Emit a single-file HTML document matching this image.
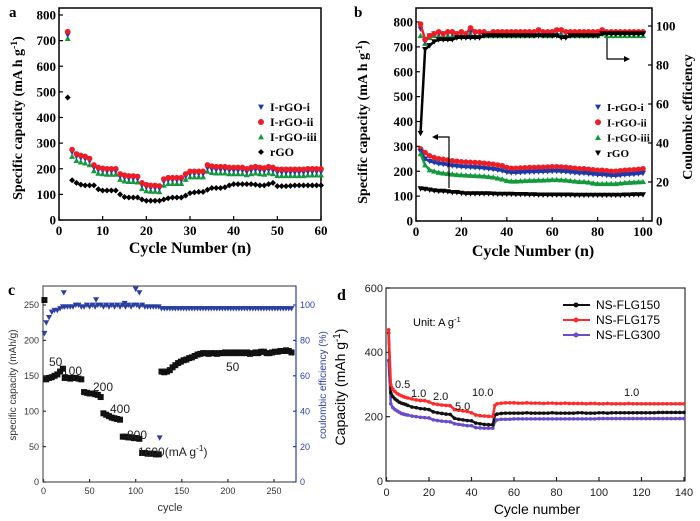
<!DOCTYPE html>
<html><head><meta charset="utf-8"><style>
body{margin:0;background:#fff}
svg{display:block}
.ser{font-family:"Liberation Serif",serif;font-weight:bold}
.san{font-family:"Liberation Sans",sans-serif}
</style></head><body>
<svg id="fig" width="700" height="521" viewBox="0 0 700 521" xmlns="http://www.w3.org/2000/svg">
<g id="pa"></g>
<g id="pb"></g>
<g id="pc"></g>
<g id="pd"></g>
</svg>
<script>
// ---------- Panel a data ----------
const aCycles=[2,3,4,5,6,7,8,9,10,11,12,13,14,15,16,17,18,19,20,21,22,23,24,25,26,27,28,29,30,31,32,33,34,35,36,37,38,39,40,41,42,43,44,45,46,47,48,49,50,51,52,53,54,55,56,57,58,59,60];
const aRed=[735,275,258,252,248,240,215,205,202,200,200,200,180,175,172,172,170,145,138,135,135,133,160,165,165,165,165,180,190,190,190,190,215,210,208,208,208,205,205,205,205,200,205,208,205,203,208,205,198,198,198,198,198,198,198,200,200,200,200];
const aBlue=[722,265,248,242,238,230,205,195,192,190,190,190,170,165,162,162,160,135,128,125,125,123,150,155,155,155,155,170,180,180,180,180,203,198,196,196,196,193,193,193,193,188,193,196,193,191,196,193,186,186,186,186,186,186,186,188,188,188,188];
const aGreen=[708,248,232,226,222,215,192,182,180,178,178,178,158,152,150,150,148,122,114,112,112,110,135,142,142,142,142,158,168,168,168,168,190,185,183,183,183,180,180,180,180,176,180,183,180,178,183,180,173,173,173,173,173,173,173,175,175,175,175];
const aBlack=[478,155,145,138,135,135,135,120,115,115,115,115,100,90,88,88,88,80,75,75,75,75,80,85,88,88,88,95,105,108,110,110,118,125,125,125,128,135,140,140,140,140,140,138,135,135,140,145,132,132,132,133,135,135,135,135,135,135,135];
const aYTicks=[0,100,200,300,400,500,600,700,800];
const aXTicks=[0,10,20,30,40,50,60];
// ---------- Panel b data ----------
const bCycles=[2,4,6,8,10,12,14,16,18,20,22,24,26,28,30,32,34,36,38,40,42,44,46,48,50,52,54,56,58,60,62,64,66,68,70,72,74,76,78,80,82,84,86,88,90,92,94,96,98,100];
const bRed=[290,275,262,255,250,248,245,242,240,238,237,236,235,234,232,230,228,225,222,215,212,212,213,214,215,215,216,216,217,218,218,217,216,214,212,210,210,208,206,204,204,202,200,200,202,204,205,206,208,210];
const bBlue=[280,250,240,235,230,228,225,222,220,218,217,216,215,214,212,210,208,205,202,196,194,194,195,196,197,197,198,198,199,200,200,199,198,196,194,192,192,190,188,186,186,184,182,182,184,186,187,188,190,192];
const bGreen=[270,225,205,200,195,192,190,188,186,185,184,183,182,181,180,178,176,172,168,162,160,160,161,162,163,163,164,164,165,166,166,165,164,162,160,158,158,156,152,150,150,150,150,150,152,154,155,156,157,158];
const bBlack=[130,128,125,122,120,120,118,115,115,112,110,110,110,110,110,110,109,108,108,108,108,107,107,107,106,106,105,105,105,105,105,105,105,105,104,104,104,104,104,104,104,104,104,104,104,105,105,106,106,106];
const bCERed=[101,93,95,96,97,96,97,97,96,97,96,99,97,97,97,96,97,97,97,97,97,97,97,97,97,97,98,97,97,97,98,98,97,97,97,97,97,97,97,97,98,97,97,97,97,97,97,97,97,97];
const bCEBlue=[98.5,92,95,96,96,96,96,96,96,96,96,97,96,96,96,96,96,96,96,96,96,96,96,96,96,96,97,96,96,96,97,97,96,96,96,96,96,96,96,96,97,96,96,96,96,96,96,96,96,96];
const bCEGreen=[95,91,94,95,95,95,95,95,95,95,95,96,95,95,95,95,95,95,95,95,95,95,95,95,95,95,96,95,95,95,96,96,95,95,95,95,95,95,95,95,96,95,95,95,95,95,95,95,95,95];
const bCEBlack=[45,88,90,92,93,93,93,93,94,94,94,94,94,94,95,95,95,95,95,95,95,95,95,95,95,95,95,95,95,95,95,94,94,95,95,95,95,95,95,95,96,96,96,96,96,96,96,96,96,96];
const bYTicks=[0,100,200,300,400,500,600,700,800];
const bY2Ticks=[0,20,40,60,80,100];
const bXTicks=[0,20,40,60,80,100];
// ---------- Panel c data ----------
const cCycles=[1,3,6,9,12,15,18,21,23,26,29,32,35,38,41,44,47,50,53,56,59,62,65,68,71,74,77,80,83,86,89,92,95,98,101,104,107,110,113,116,119,122,125,128,131,134,137,140,143,146,149,152,155,158,161,164,167,170,173,176,179,182,185,188,191,194,197,200,203,206,209,212,215,218,221,224,227,230,233,236,239,242,245,248,251,254,257,260,263,266,269];
const cCap=[257,145,147,148,150,152,156,160,147,147,146,147,147,146,145,127,126,125,125,124,123,120,97,95,93,91,90,89,88,64,64,63,63,62,62,61,41,41,40,40,40,39,39,156,155,156,158,162,165,168,170,172,173,175,176,178,180,181,182,182,181,182,182,181,182,182,183,182,183,182,183,182,183,182,183,181,182,183,182,184,184,182,182,183,184,184,185,185,186,185,183];
const cCE=[84,90,93,96,97,97,98,99,99,99,99,99,100,100,99,99,100,99,100,99,100,100,99,100,99,100,99,100,99,100,99,100,99,100,100,99,100,99,99,99,99,99,99,98,98,98,98,98,98,98,98,98,98,98,98,98,98,98,98,98,98,98,98,98,98,98,98,98,98,98,98,98,98,98,98,98,98,98,98,98,98,98,98,98,98,98,98,98,98,98,98];
const cOutCycles=[22,57,88,100,104,126];
const cOutCE=[107,103,101,109,107,25];
const cYTicks=[0,50,100,150,200,250];
const cY2Ticks=[0,20,40,60,80,100];
const cXTicks=[0,50,100,150,200,250];
// ---------- Panel d data ----------
const dCycles=[1,2,3,4,5,6,7,8,9,10,12,14,16,18,20,22,24,26,28,30,32,34,36,38,40,42,44,46,48,50,51,52,54,56,58,60,62,64,66,68,70,72,74,76,78,80,82,84,86,88,90,92,94,96,98,100,102,104,106,108,110,112,114,116,118,120,122,124,126,128,130,132,134,136,138,140];
const dRed=[470,300,285,278,272,268,265,262,260,258,255,252,250,250,246,240,238,236,235,234,222,220,218,216,212,205,203,202,201,200,235,240,242,243,243,243,242,242,243,242,242,242,241,242,242,241,241,242,241,241,241,241,240,241,241,240,240,241,240,240,240,240,241,240,240,240,240,240,240,240,240,240,240,240,240,240];
const dBlack=[460,275,262,255,250,245,242,240,238,235,230,228,225,224,222,215,212,210,208,207,195,192,190,188,187,180,178,176,175,175,205,208,210,211,211,211,211,211,212,211,211,211,211,211,212,211,211,211,211,211,212,212,211,211,211,212,212,211,212,212,212,212,212,212,212,212,212,212,212,213,213,213,213,213,213,213];
const dPurple=[375,240,228,222,218,214,210,208,206,205,202,200,198,197,196,190,188,186,185,184,178,176,174,172,172,166,165,164,164,164,185,190,192,192,192,193,193,193,193,193,193,193,193,193,193,193,193,193,193,193,193,193,193,193,193,194,194,194,194,194,194,194,194,194,194,194,194,194,194,194,194,194,194,194,194,194];
const dYTicks=[0,200,400,600];
const dXTicks=[0,20,40,60,80,100,120,140];

// ---------- helpers ----------
const NS="http://www.w3.org/2000/svg";
function mk(parent,tag,attrs,text){const e=document.createElementNS(NS,tag);for(const k in attrs)e.setAttribute(k,attrs[k]);if(text!==undefined)e.textContent=text;parent.appendChild(e);return e;}
function lin(d0,d1,r0,r1){return v=>r0+(v-d0)*(r1-r0)/(d1-d0);}
function marker(g,type,x,y,s,col){
  let e;
  if(type==='circle'){e=mk(g,'circle',{cx:x,cy:y,r:s,fill:col});}
  else if(type==='tdown'){e=mk(g,'polygon',{points:`${x-s},${y-s*0.8} ${x+s},${y-s*0.8} ${x},${y+s}`,fill:col});}
  else if(type==='tup'){e=mk(g,'polygon',{points:`${x-s},${y+s*0.8} ${x+s},${y+s*0.8} ${x},${y-s}`,fill:col});}
  else if(type==='diamond'){e=mk(g,'polygon',{points:`${x},${y-s} ${x+s},${y} ${x},${y+s} ${x-s},${y}`,fill:col});}
  else {e=mk(g,'rect',{x:x-s,y:y-s,width:2*s,height:2*s,fill:col});}
  return e;
}
function series(g,name,xs,ys,sx,sy,type,size,col,line,lw){
  const sg=mk(g,'g',{});
  
  
  if(line){let d='';xs.forEach((c,i)=>{d+=(i?'L':'M')+sx(c).toFixed(1)+','+sy(ys[i]).toFixed(1);});mk(sg,'path',{d:d,fill:'none',stroke:col,'stroke-width':lw||1.5});}
  xs.forEach((c,i)=>{const m=marker(sg,type,sx(c),sy(ys[i]),size,col);
    
    });
}
function frame(g,x0,y0,x1,y1,col,w){const r=mk(g,'rect',{x:x0,y:y0,width:x1-x0,height:y1-y0,fill:'none',stroke:col||'#000','stroke-width':w||1.5});}
function yTicks(g,ticks,sy,x,side,len,cls,fs,col,lx){
  const tg=mk(g,'g',{});
  ticks.forEach(t=>{const y=sy(t);
    mk(tg,'line',{x1:x,x2:side==='l'?x+len:x-len,y1:y,y2:y,stroke:col,'stroke-width':1.2});
    const tx=mk(tg,'text',{x:lx,y:y+fs*0.35,'text-anchor':side==='l'?'end':'start','font-size':fs,fill:col,class:cls},String(t));
    });
}
function xTicks(g,ticks,sx,y,len,cls,fs,col,ly){
  const tg=mk(g,'g',{});
  ticks.forEach(t=>{const x=sx(t);
    mk(tg,'line',{x1:x,x2:x,y1:y,y2:y-len,stroke:col,'stroke-width':1.2});
    const tx=mk(tg,'text',{x:x,y:ly,'text-anchor':'middle','font-size':fs,fill:col,class:cls},String(t));
    });
}
function label(g,name,x,y,txt,fs,cls,opts){
  const a=Object.assign({x:x,y:y,'font-size':fs,class:cls},opts||{});
  const t=mk(g,'text',a);
  if(Array.isArray(txt)){txt.forEach(p=>{if(typeof p==='string')mk(t,'tspan',{},p);else mk(t,'tspan',{'baseline-shift':'super','font-size':fs*0.7},p.sup);});}
  else t.textContent=txt;
  return t;
}
const C_BLUE='#1c3aa8',C_RED='#ee1c24',C_GREEN='#149a3c',C_BLK='#000';

// ---------- Panel a ----------
(function(){
  const g=document.getElementById('pa');
  const sx=lin(0,60,59,321), sy=lin(0,800,220,15);
  frame(g,59,8,321,220);
  yTicks(g,aYTicks,sy,59,'l',4,'ser',13,'#000',56);
  xTicks(g,aXTicks,sx,220,4,'ser',13,'#000',235);
  series(g,'series-rgo',aCycles,aBlack,sx,sy,'diamond',3,C_BLK);
  series(g,'series-i-rgo-iii',aCycles,aGreen,sx,sy,'tup',3,C_GREEN);
  series(g,'series-i-rgo-i',aCycles,aBlue,sx,sy,'tdown',3,C_BLUE);
  series(g,'series-i-rgo-ii',aCycles,aRed,sx,sy,'circle',2.8,C_RED);
  label(g,'panel-label-a',9,17,'a',15,'ser',{'font-weight':'normal'});
  label(g,'x-axis-title',190,253,'Cycle Number (n)',16,'ser',{'text-anchor':'middle'});
  label(g,'y-axis-title',0,0,['Specific capacity (mA h g',{sup:'-1'},')'],14,'ser',{'text-anchor':'middle',transform:'translate(22,118) rotate(-90)'});
  const lg=mk(g,'g',{});
  [['tdown',C_BLUE,'I-rGO-i'],['circle',C_RED,'I-rGO-ii'],['tup',C_GREEN,'I-rGO-iii'],['diamond',C_BLK,'rGO']].forEach((e,i)=>{
    const y=107+i*15;marker(lg,e[0],261,y,3,e[1]);
    label(lg,'legend-entry',270,y+4,e[2],12,'ser');});
})();

// ---------- Panel b ----------
(function(){
  const g=document.getElementById('pb');
  const sx=lin(0,100,416,643), sy=lin(0,800,221,22), sy2=lin(0,100,221,26);
  frame(g,416,8,652,221);
  yTicks(g,bYTicks,sy,416,'l',4,'ser',13,'#000',413);
  yTicks(g,bY2Ticks,sy2,652,'r',4,'ser',13,'#000',656);
  xTicks(g,bXTicks,sx,221,4,'ser',13,'#000',236);
  series(g,'ce-i-rgo-iii',bCycles,bCEGreen,sx,sy2,'tup',3,C_GREEN);
  series(g,'ce-i-rgo-i',bCycles,bCEBlue,sx,sy2,'tdown',3,C_BLUE);
  series(g,'ce-i-rgo-ii',bCycles,bCERed,sx,sy2,'circle',2.8,C_RED,true,2.5);
  series(g,'ce-rgo',bCycles,bCEBlack,sx,sy2,'tdown',3,C_BLK,true,2.5);
  series(g,'capacity-i-rgo-ii',bCycles,bRed,sx,sy,'circle',2.8,C_RED,true,2.5);
  series(g,'capacity-i-rgo-i',bCycles,bBlue,sx,sy,'tdown',3,C_BLUE,true,2.5);
  series(g,'capacity-i-rgo-iii',bCycles,bGreen,sx,sy,'tup',3,C_GREEN,true,2.5);
  series(g,'capacity-rgo',bCycles,bBlack,sx,sy,'tdown',3,C_BLK,true,2.5);
  label(g,'panel-label-b',354,17,'b',15,'ser',{'font-weight':'normal'});
  label(g,'x-axis-title',533,256,'Cycle Number (n)',16,'ser',{'text-anchor':'middle'});
  label(g,'y-axis-title',0,0,['Specific capacity (mA h g',{sup:'-1'},')'],14,'ser',{'text-anchor':'middle',transform:'translate(367,122) rotate(-90)'});
  label(g,'y2-axis-title',0,0,'Coulombic efficiency',14,'ser',{'text-anchor':'middle',transform:'translate(692,117) rotate(-90)'});
  const ar=mk(g,'g',{});
  mk(ar,'path',{d:'M449,188 L449,137 L437,137',fill:'none',stroke:'#000','stroke-width':1.2});
  mk(ar,'polygon',{points:'432,137 438,134 438,140',fill:'#000'});
  mk(ar,'path',{d:'M607,38 L607,59 L625,59',fill:'none',stroke:'#000','stroke-width':1.2});
  mk(ar,'polygon',{points:'630,59 624,56 624,62',fill:'#000'});
  const lg=mk(g,'g',{});
  [['tdown',C_BLUE,'I-rGO-i'],['circle',C_RED,'I-rGO-ii'],['tup',C_GREEN,'I-rGO-iii'],['tdown',C_BLK,'rGO']].forEach((e,i)=>{
    const y=107+i*15.3;marker(lg,e[0],598,y,3,e[1]);
    label(lg,'legend-entry',607,y+4,e[2],11,'ser');});
})();

// ---------- Panel c ----------
(function(){
  const g=document.getElementById('pc');
  const CB='#2b3f9e';
  const sx=lin(0,250,43.5,274), sy=lin(0,250,482,305), sy2=lin(0,100,482,305);
  frame(g,43,286,296,482,'#333',1);
  mk(g,'line',{x1:296,x2:296,y1:286,y2:482,stroke:CB,'stroke-width':1.2});
  yTicks(g,cYTicks,sy,43,'l',3,'san',9,'#333',39);
  yTicks(g,cY2Ticks,sy2,296,'r',3,'san',9,CB,300);
  xTicks(g,cXTicks,sx,482,3,'san',9,'#333',494);
  series(g,'coulombic-efficiency',cCycles,cCE,sx,sy2,'tdown',3,CB);
  series(g,'coulombic-efficiency-outliers',cOutCycles,cOutCE,sx,sy2,'tdown',3,CB);
  series(g,'specific-capacity',cCycles,cCap,sx,sy,'square',3,'#111');
  label(g,'panel-label-c',8,295,'c',16,'ser',{'font-weight':'normal'});
  label(g,'x-axis-title',170,511,'cycle',11,'san',{'text-anchor':'middle','fill':'#333'});
  label(g,'y-axis-title',0,0,'specific capacity (mAh/g)',10,'san',{'text-anchor':'middle',fill:'#333',transform:'translate(16,385) rotate(-90)'});
  label(g,'y2-axis-title',0,0,'coulombic efficiency (%)',10,'san',{'text-anchor':'middle',fill:CB,transform:'translate(326,385) rotate(-90)'});
  const an=[['50',49,366],['100',62,375],['200',93,391],['400',110,413],['800',127,439]];
  an.forEach(a=>label(g,'rate-annotation',a[1],a[2],a[0],12,'san',{fill:'#222'}));
  label(g,'rate-annotation',138,456,['1600(mA g',{sup:'-1'},')'],12,'san',{fill:'#222'});
  label(g,'rate-annotation',226,371,'50',12,'san',{fill:'#222'});
})();

// ---------- Panel d ----------
(function(){
  const g=document.getElementById('pd');
  const sx=lin(0,140,386.5,684), sy=lin(0,600,481,288);
  frame(g,386,288,685,481,'#333',1.2);
  yTicks(g,dYTicks,sy,386,'l',4,'san',11,'#222',383);
  xTicks(g,dXTicks,sx,481,4,'san',11,'#222',496);
  series(g,'series-ns-flg300',dCycles,dPurple,sx,sy,'circle',1.8,'#6a4cc8',true,2.5);
  series(g,'series-ns-flg150',dCycles,dBlack,sx,sy,'circle',1.8,'#111',true,2.5);
  series(g,'series-ns-flg175',dCycles,dRed,sx,sy,'circle',1.8,'#ff2a2a',true,2.5);
  label(g,'panel-label-d',337,300,'d',16,'ser',{'font-weight':'normal'});
  label(g,'x-axis-title',537,514,'Cycle number',14,'san',{'text-anchor':'middle'});
  label(g,'y-axis-title',0,0,['Capacity (mAh g',{sup:'-1'},')'],14,'san',{'text-anchor':'middle',transform:'translate(345,387) rotate(-90)'});
  label(g,'unit-note',413,326,['Unit: A g',{sup:'-1'}],11,'san');
  [['0.5',395,388],['1.0',411,397],['2.0',433,400],['5.0',455,410],['10.0',472,396],['1.0',624,396]].forEach(a=>label(g,'rate-annotation',a[1],a[2],a[0],11,'san',{fill:'#111'}));
  const lg=mk(g,'g',{});
  [['#111','NS-FLG150'],['#ff2a2a','NS-FLG175'],['#6a4cc8','NS-FLG300']].forEach((e,i)=>{
    const y=305+i*15;mk(lg,'line',{x1:563,x2:590,y1:y,y2:y,stroke:e[0],'stroke-width':2});
    mk(lg,'circle',{cx:576,cy:y,r:2.5,fill:e[0]});
    label(lg,'legend-entry',596,y+4,e[1],12,'san');});
})();
</script>
</body></html>
